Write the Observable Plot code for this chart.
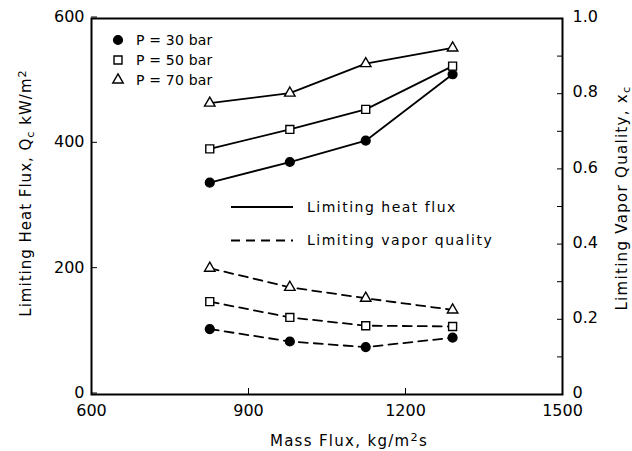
<!DOCTYPE html>
<html><head><meta charset="utf-8">
<script src="https://cdn.jsdelivr.net/npm/d3@7"></script>
<script src="https://cdn.jsdelivr.net/npm/@observablehq/plot@0.6"></script>
<style>
body{margin:0;background:#fff}
svg{font-family:"DejaVu Sans",sans-serif}
</style>
</head><body><div id="chart"></div>
<script>
// ---- data ----
const massFlux = [826, 979, 1124, 1290];
const pressureLabels = ["P = 30 bar", "P = 50 bar", "P = 70 bar"];
const heatFlux30 = [338, 371, 405, 511];
const heatFlux50 = [392, 423, 455, 524];
const heatFlux70 = [465, 481, 528, 553];
const quality30 = [0.174, 0.141, 0.126, 0.151];
const quality50 = [0.247, 0.205, 0.183, 0.181];
const quality70 = [0.336, 0.285, 0.256, 0.225];
const xTicks = [600, 900, 1200, 1500];
const heatTicks = [0, 200, 400, 600];
const qualityTicks = [0, 0.1, 0.2, 0.3, 0.4, 0.5, 0.6, 0.7, 0.8, 0.9, 1.0];
const qualityLabelValues = [0, 0.2, 0.4, 0.6, 0.8, 1.0];
const qualityLabels = ["0", "0.2", "0.4", "0.6", "0.8", "1.0"];
const lineLegend = ["Limiting heat flux", "Limiting vapor quality"];

// right axis: quality 0..1 spans heat flux 0..600
const Q2H = 600;

const heatSeries = [heatFlux30, heatFlux50, heatFlux70];
const qualSeries = [quality30, quality50, quality70];
const rows = [];
pressureLabels.forEach((p, k) => {
  massFlux.forEach((x, i) => {
    rows.push({x, y: heatSeries[k][i], p, kind: "heat"});
    rows.push({x, y: qualSeries[k][i] * Q2H, p, kind: "quality"});
  });
});
const symbolFor = {"P = 30 bar": "circle", "P = 50 bar": "square", "P = 70 bar": "triangle"};
const fillFor = {"P = 30 bar": "black", "P = 50 bar": "white", "P = 70 bar": "white"};
const sizeFor = {"P = 30 bar": 4.4, "P = 50 bar": 4.5, "P = 70 bar": 3.9};

const labelMap = new Map(qualityLabelValues.map((v, i) => [Math.round(v * Q2H), qualityLabels[i]]));

const marks = [
  Plot.frame({strokeWidth: 2}),
  Plot.axisX(xTicks, {tickSize: -6, tickPadding: 16, label: null, fontSize: 16, tickFormat: d => String(d)}),
  Plot.axisY(heatTicks, {anchor: "left", tickSize: -6, tickPadding: 13, dy: -1.5, label: null, fontSize: 16, tickFormat: d => String(d)}),
  Plot.axisY(qualityTicks.map(q => q * Q2H), {anchor: "right", tickSize: -6, tickFormat: () => "", label: null}),
  Plot.axisY(qualityLabelValues.map(q => q * Q2H), {anchor: "right", tickSize: 0, tickPadding: 10, dy: -1.5, label: null, fontSize: 16,
    tickFormat: d => labelMap.get(Math.round(d)) ?? ""})
];
pressureLabels.forEach(p => {
  marks.push(Plot.line(rows.filter(r => r.p === p && r.kind === "heat"), {x: "x", y: "y", stroke: "black", strokeWidth: 1.8}));
  marks.push(Plot.line(rows.filter(r => r.p === p && r.kind === "quality"), {x: "x", y: "y", stroke: "black", strokeWidth: 1.8, strokeDasharray: "9,6"}));
});
pressureLabels.forEach(p => {
  marks.push(Plot.dot(rows.filter(r => r.p === p), {x: "x", y: "y", symbol: symbolFor[p], r: sizeFor[p], fill: fillFor[p], stroke: "black", strokeWidth: 1.4}));
});

const svg = Plot.plot({
  width: 632, height: 451,
  marginLeft: 91, marginRight: 70, marginTop: 18, marginBottom: 57,
  x: {domain: [600, 1500]},
  y: {domain: [0, 600]},
  style: {background: "#fff", color: "#000", fontFamily: "'DejaVu Sans', sans-serif"},
  marks
});
document.getElementById("chart").append(svg);

// ---- titles and legend ----
const s = d3.select(svg);
const g = s.append("g").attr("fill", "black").attr("text-anchor", "start")
  .style("font-family", "'DejaVu Sans', sans-serif");

function addRich(parent, parts, attrs) {
  const t = parent.append("text");
  Object.entries(attrs).forEach(([k, v]) => t.attr(k, v));
  parts.forEach(([txt, shift]) => {
    const ts = t.append("tspan").text(txt);
    if (shift === "sub") ts.attr("baseline-shift", "-25%").attr("font-size", "75%");
    if (shift === "sup") ts.attr("baseline-shift", "45%").attr("font-size", "75%");
  });
  return t;
}

addRich(g, [["Limiting Heat Flux, Q"], ["c", "sub"], [" kW/m"], ["2", "sup"]],
  {transform: "translate(31,193) rotate(-90)", "text-anchor": "middle", "font-size": 15, "letter-spacing": 1});
addRich(g, [["Limiting Vapor Quality, x"], ["c", "sub"]],
  {transform: "translate(627,198) rotate(-90)", "text-anchor": "middle", "font-size": 15, "letter-spacing": 1.3});
addRich(g, [["Mass Flux, kg/m"], ["2", "sup"], ["s"]],
  {transform: "translate(349,446)", "text-anchor": "middle", "font-size": 15, "letter-spacing": 1.3});

// pressure legend
const legSyms = [d3.symbolCircle, d3.symbolSquare, d3.symbolTriangle];
pressureLabels.forEach((p, i) => {
  const y = 40 + i * 20;
  const r = sizeFor[p];
  g.append("path").attr("d", d3.symbol(legSyms[i], Math.PI * r * r)())
    .attr("transform", `translate(118,${y})`)
    .attr("fill", fillFor[p]).attr("stroke", "black").attr("stroke-width", 1.4);
  g.append("text").attr("x", 136).attr("y", y).attr("dy", "0.35em").attr("text-anchor", "start")
    .attr("font-size", 14).attr("letter-spacing", 0.2).text(p);
});
// line legend
lineLegend.forEach((lab, i) => {
  const y = 207 + i * 33.5;
  g.append("line").attr("x1", 231).attr("x2", 293).attr("y1", y).attr("y2", y)
    .attr("stroke", "black").attr("stroke-width", 1.8)
    .attr("stroke-dasharray", i === 1 ? "9,6" : null);
  g.append("text").attr("x", 307).attr("y", y).attr("dy", "0.35em").attr("text-anchor", "start")
    .attr("font-size", 14).attr("letter-spacing", 1.5).text(lab);
});
</script>
</body></html>
